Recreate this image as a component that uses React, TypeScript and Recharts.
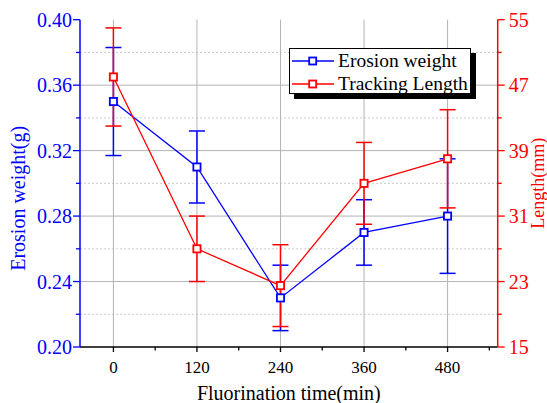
import React from 'react';
import { ComposedChart, Line, XAxis, YAxis, ErrorBar, ReferenceLine, Legend } from 'recharts';

const times = [0, 120, 240, 360, 480];
const erosionWeight = [0.35, 0.31, 0.23, 0.27, 0.28];
const erosionErr = [0.033, 0.022, 0.02, 0.02, 0.035];
const trackingLength = [48, 27, 22.5, 35, 38];
const lengthErr = [6, 4, 5, 5, 6];

const xMajor = [0, 120, 240, 360, 480];
const xMinor = [60, 180, 300, 420, 540];
const leftMajor = [0.2, 0.24, 0.28, 0.32, 0.36, 0.4];
const leftMinor = [0.22, 0.26, 0.3, 0.34, 0.38];
const rightMajor = [15, 23, 31, 39, 47, 55];
const rightMinor = [19, 27, 35, 43, 51];

const BLUE = '#0000ff';
const RED = '#ff0000';
const FONT = '"Liberation Serif", "Times New Roman", serif';

const data = times.map((t, i) => ({
  t,
  ew: erosionWeight[i],
  ewErr: erosionErr[i],
  tl: trackingLength[i],
  tlErr: lengthErr[i],
}));

const isIn = (arr: number[], v: number) => arr.some((m) => Math.abs(m - v) < 1e-9);
const sortNum = (a: number[]) => [...a].sort((p, q) => p - q);

const LeftTick = (props: any) => {
  const { x, y, payload } = props;
  const v = payload.value;
  const major = isIn(leftMajor, v);
  const ax = x + 8;
  return (
    <g>
      <line x1={ax - (major ? 7 : 4)} x2={ax} y1={y} y2={y} stroke={BLUE} strokeWidth={1.3} />
      {major && (
        <text x={ax - 8} y={y} dy={7} textAnchor="end" fill={BLUE} fontSize={20} fontFamily={FONT}>
          {v.toFixed(2)}
        </text>
      )}
    </g>
  );
};

const RightTick = (props: any) => {
  const { x, y, payload } = props;
  const v = payload.value;
  const major = isIn(rightMajor, v);
  const ax = x - 8;
  return (
    <g>
      <line x1={ax} x2={ax + (major ? 7 : 4)} y1={y} y2={y} stroke={RED} strokeWidth={1.3} />
      {major && (
        <text x={ax + 11} y={y} dy={7} textAnchor="start" fill={RED} fontSize={20} fontFamily={FONT}>
          {v}
        </text>
      )}
    </g>
  );
};

const BottomTick = (props: any) => {
  const { x, y, payload } = props;
  const v = payload.value;
  const major = isIn(xMajor, v);
  const ay = y - 8;
  return (
    <g>
      <line x1={x} x2={x} y1={ay} y2={ay + (major ? 5 : 3.5)} stroke="#000" strokeWidth={1.3} />
      {major && (
        <text x={x} y={ay + 26} textAnchor="middle" fill="#000" fontSize={17} fontFamily={FONT}>
          {v}
        </text>
      )}
    </g>
  );
};

const EmptyTick = () => <g />;

const square = (color: string) => (props: any) => {
  const { cx, cy, index } = props;
  if (cx == null || cy == null) return <g key={`n${index}`} />;
  return (
    <rect key={`s${color}${index}`} x={cx - 3.6} y={cy - 3.6} width={7.2} height={7.2} fill="#fff" stroke={color} strokeWidth={1.8} />
  );
};

const LegendBox = () => {
  const row = (color: string, label: string, top: number) => (
    <div style={{ position: 'absolute', left: 0, top, display: 'flex', alignItems: 'center', height: 22, whiteSpace: 'nowrap' }}>
      <svg width={46} height={14} style={{ marginLeft: 1, marginRight: 1, flex: 'none' }}>
        <line x1={1} x2={43} y1={7} y2={7} stroke={color} strokeWidth={1.3} />
        <rect x={18.2} y={3.5} width={7} height={7} fill="#fff" stroke={color} strokeWidth={1.8} />
      </svg>
      <span style={{ fontFamily: FONT, fontSize: 19.5, color: '#000', lineHeight: '22px' }}>{label}</span>
    </div>
  );
  return (
    <div
      style={{
        position: 'relative',
        width: 182,
        height: 46,
        border: '1px solid #000',
        background: '#fff',
        boxShadow: '5px 5px 0 #000',
        boxSizing: 'border-box',
      }}
    >
      {row(BLUE, 'Erosion weight', 1)}
      {row(RED, 'Tracking Length', 24)}
    </div>
  );
};

const XLabel = (props: any) => {
  const vb = props.viewBox;
  return (
    <text x={vb.x + vb.width / 2} y={vb.y + 53} textAnchor="middle" fontSize={20} fontFamily={FONT} fill="#000">
      Fluorination time(min)
    </text>
  );
};

const LeftLabel = (props: any) => {
  const vb = props.viewBox;
  const x = vb.x - 2;
  const y = vb.y + vb.height / 2 + 15;
  return (
    <text x={x} y={y} transform={`rotate(-90 ${x} ${y})`} textAnchor="middle" dominantBaseline="central" fontSize={20} fontFamily={FONT} fill={BLUE}>
      Erosion weight(g)
    </text>
  );
};

const RightLabel = (props: any) => {
  const vb = props.viewBox;
  const x = vb.x + vb.width - 6;
  const y = vb.y + vb.height / 2;
  return (
    <text x={x} y={y} transform={`rotate(-90 ${x} ${y})`} textAnchor="middle" dominantBaseline="central" fontSize={18} fontFamily={FONT} fill={RED}>
      Length(mm)
    </text>
  );
};

export default function App() {
  const xTicks = sortNum([...xMajor, ...xMinor]);
  return (
    <div style={{ position: 'absolute', left: 0, top: 0, width: 547, height: 403, overflow: 'hidden' }}>
      <ComposedChart
        width={547}
        height={403}
        data={data}
        margin={{ top: 19.7, right: 3.3, bottom: 16, left: 20 }}
      >
        {leftMinor.map((v) => (
          <ReferenceLine key={`mn${v}`} yAxisId="left" y={v} stroke="#cccccc" strokeDasharray="2 2" strokeWidth={1} />
        ))}
        {leftMajor.slice(1, -1).map((v) => (
          <ReferenceLine key={`mj${v}`} yAxisId="left" y={v} stroke="#b4b4b4" strokeWidth={1} />
        ))}
        {xMajor.map((v) => (
          <ReferenceLine key={`vx${v}`} yAxisId="left" x={v} stroke="#b4b4b4" strokeWidth={1} />
        ))}
        <XAxis
          dataKey="t"
          type="number"
          domain={[-48, 552]}
          ticks={xTicks}
          interval={0}
          tickLine={false}
          tickSize={6}
          tickMargin={2}
          tick={<BottomTick />}
          axisLine={{ stroke: '#000', strokeWidth: 1.5 }}
          height={40}
          label={<XLabel />}
        />
        <XAxis
          xAxisId="top"
          type="number"
          orientation="top"
          mirror
          domain={[-48, 552]}
          ticks={xTicks}
          interval={0}
          tickSize={4}
          tickLine={{ stroke: '#000', strokeWidth: 1.3 }}
          tick={<EmptyTick />}
          axisLine={{ stroke: '#000', strokeWidth: 1.5 }}
          height={0}
        />
        <YAxis
          yAxisId="left"
          type="number"
          domain={[0.2, 0.4]}
          ticks={sortNum([...leftMajor, ...leftMinor])}
          interval={0}
          tickLine={false}
          tickSize={7}
          tickMargin={1}
          tick={<LeftTick />}
          axisLine={{ stroke: BLUE, strokeWidth: 1.5 }}
          width={60}
          label={<LeftLabel />}
        />
        <YAxis
          yAxisId="right"
          orientation="right"
          type="number"
          domain={[15, 55]}
          ticks={sortNum([...rightMajor, ...rightMinor])}
          interval={0}
          tickLine={false}
          tickSize={7}
          tickMargin={1}
          tick={<RightTick />}
          axisLine={{ stroke: RED, strokeWidth: 1.5 }}
          width={46}
          label={<RightLabel />}
        />
        <Legend
          layout="horizontal"
          verticalAlign="middle"
          align="center"
          wrapperStyle={{ left: 289, top: 48, width: 'auto' }}
          content={<LegendBox />}
        />
        <Line
          yAxisId="left"
          dataKey="ew"
          stroke={BLUE}
          strokeWidth={1.3}
          dot={square(BLUE)}
          activeDot={false}
          isAnimationActive={false}
        >
          <ErrorBar dataKey="ewErr" width={8} stroke={BLUE} strokeWidth={1.5} direction="y" isAnimationActive={false} />
        </Line>
        <Line
          yAxisId="right"
          dataKey="tl"
          stroke={RED}
          strokeWidth={1.3}
          dot={square(RED)}
          activeDot={false}
          isAnimationActive={false}
        >
          <ErrorBar dataKey="tlErr" width={8} stroke={RED} strokeWidth={1.5} direction="y" isAnimationActive={false} />
        </Line>
      </ComposedChart>
    </div>
  );
}
